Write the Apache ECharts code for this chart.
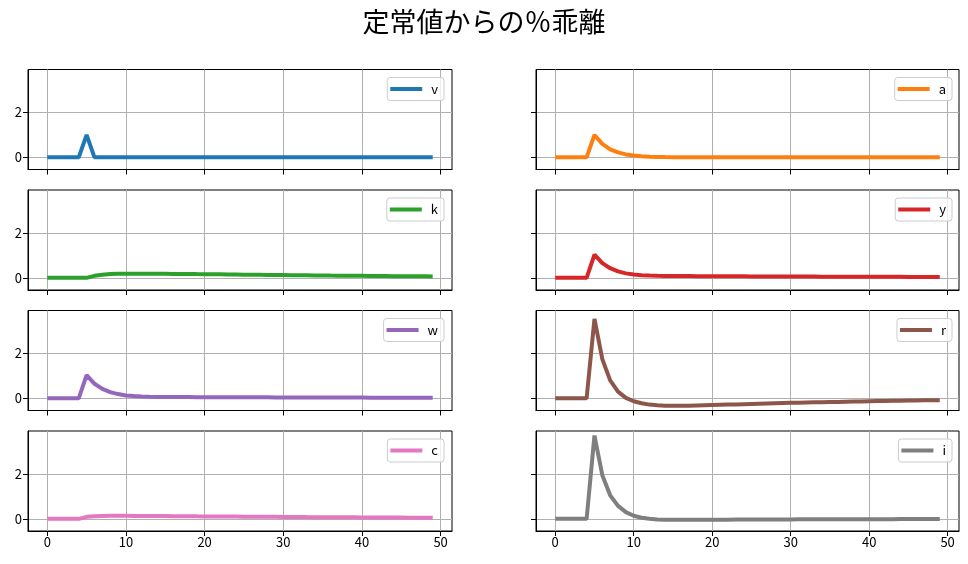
<!DOCTYPE html>
<html>
<head>
<meta charset="utf-8">
<script src="https://cdn.jsdelivr.net/npm/echarts@6/dist/echarts.min.js"></script>
<style>
html,body{margin:0;padding:0;background:#fff;}
#chart{width:968px;height:564px;}
</style>
</head>
<body>
<div id="chart"></div>
<script>
// ---- data ----
const title = '定常値からの％乖離';
const periods = Array.from({length: 50}, (_, t) => t);
const xTicks = [0, 10, 20, 30, 40, 50];
const yTicks = [0, 2];
const names = ['v', 'a', 'k', 'y', 'w', 'r', 'c', 'i'];
const colors = ['#1f77b4', '#ff7f0e', '#2ca02c', '#d62728', '#9467bd', '#8c564b', '#e377c2', '#7f7f7f'];

const v = [0,0,0,0,0,1,0,0,0,0, 0,0,0,0,0,0,0,0,0,0, 0,0,0,0,0,0,0,0,0,0, 0,0,0,0,0,0,0,0,0,0, 0,0,0,0,0,0,0,0,0,0];
const a = [0,0,0,0,0,1.0,0.60,0.36,0.22,0.13, 0.08,0.05,0.03,0.018,0.011,0.007,0.004,0.003,0.002,0.001, 0,0,0,0,0,0,0,0,0,0, 0,0,0,0,0,0,0,0,0,0, 0,0,0,0,0,0,0,0,0,0];
const k = [0,0,0,0,0,0,0.09,0.14,0.17,0.18, 0.185,0.187,0.186,0.184,0.182,0.179, 0.176,0.173,0.17,0.166,0.163, 0.159,0.155,0.151,0.147,0.143,0.139,0.135,0.131,0.127,0.123, 0.119,0.115,0.111,0.107,0.104,0.1,0.097,0.094,0.091,0.088, 0.085,0.082,0.079,0.076,0.073,0.071,0.068,0.066,0.064];
const y = [0,0,0,0,0,1.04,0.66,0.43,0.29,0.2, 0.15,0.12,0.1,0.09,0.085,0.082,0.08,0.078,0.076,0.074, 0.072,0.071,0.069,0.068,0.067,0.065,0.064,0.063,0.061,0.06, 0.059,0.058,0.056,0.055,0.054,0.053,0.052,0.051,0.05,0.049, 0.048,0.047,0.046,0.045,0.044,0.043,0.042,0.041,0.04,0.039];
const w = [0,0,0,0,0,1.04,0.65,0.42,0.28,0.19, 0.13,0.1,0.08,0.07,0.065,0.06, 0.058,0.056,0.055,0.053,0.052, 0.051,0.05,0.049,0.048,0.047,0.046,0.045,0.044,0.043,0.042, 0.041,0.04,0.039,0.038,0.037,0.036,0.035,0.034,0.033,0.032, 0.031,0.031,0.03,0.029,0.029,0.028,0.027,0.027,0.026];
const r = [0,0,0,0,0,3.55,1.75,0.8,0.3,0.02, -0.13,-0.22,-0.28,-0.31,-0.33,-0.335, -0.335,-0.33,-0.32,-0.31,-0.3, -0.29,-0.28,-0.27,-0.26,-0.25,-0.24,-0.23,-0.22,-0.21,-0.2, -0.193,-0.186,-0.179,-0.172,-0.165,-0.158,-0.151,-0.144,-0.137,-0.13, -0.124,-0.118,-0.112,-0.106,-0.1,-0.095,-0.09,-0.085,-0.08];
const c = [0,0,0,0,0,0.09,0.12,0.13,0.135,0.135, 0.133,0.13,0.128,0.126,0.124,0.122, 0.119,0.117,0.115,0.112,0.11, 0.107,0.105,0.102,0.1,0.097,0.095,0.092,0.09,0.088,0.085, 0.083,0.081,0.078,0.076,0.074,0.072,0.07,0.068,0.066,0.064, 0.062,0.06,0.058,0.057,0.055,0.053,0.052,0.05,0.049];
const iv = [0,0,0,0,0,3.72,1.95,1.05,0.58,0.3, 0.14,0.05,0.0,-0.03,-0.04,-0.045, -0.045,-0.044,-0.042,-0.04,-0.038, -0.036,-0.035,-0.033,-0.032,-0.03,-0.029,-0.028,-0.026,-0.025,-0.024, -0.023,-0.022,-0.021,-0.02,-0.019,-0.018,-0.017,-0.017,-0.016,-0.015, -0.014,-0.014,-0.013,-0.012,-0.012,-0.011,-0.011,-0.01,-0.01];
const seriesValues = [v, a, k, y, w, r, c, iv];

// ---- layout ----
const FONT = '"Noto Sans CJK JP", "DejaVu Sans", sans-serif';
const colLeft = [28, 536];
const colWidth = [424, 423];
const rowTop = [69.5, 190, 310.5, 431];
const rowHeight = 100;
const xMin = -2.45, xMax = 51.45;
const yMin = -0.543, yMax = 3.923;

const grids = [], xAxes = [], yAxes = [], series = [], legends = [];
names.forEach((name, idx) => {
  const row = Math.floor(idx / 2), col = idx % 2;
  grids.push({
    left: colLeft[col], top: rowTop[row], width: colWidth[col], height: rowHeight,
    show: true, borderColor: '#000', borderWidth: 1, backgroundColor: 'transparent'
  });
  xAxes.push({
    type: 'value', gridIndex: idx, min: xMin, max: xMax,
    axisLine: {show: true, onZero: false, lineStyle: {color: '#000', width: 1}},
    axisTick: {show: true, customValues: xTicks, length: 5, lineStyle: {color: '#000', width: 1}},
    axisLabel: {show: row === 3, customValues: xTicks, color: '#000', fontSize: 13, fontFamily: FONT, margin: 5},
    splitLine: {show: true, lineStyle: {color: '#b0b0b0', width: 1}}
  });
  yAxes.push({
    type: 'value', gridIndex: idx, min: yMin, max: yMax,
    axisLine: {show: true, onZero: false, lineStyle: {color: '#000', width: 1}},
    axisTick: {show: true, customValues: yTicks, length: 5, lineStyle: {color: '#000', width: 1}},
    axisLabel: {show: col === 0, customValues: yTicks, color: '#000', fontSize: 13, fontFamily: FONT, margin: 6},
    splitLine: {show: true, lineStyle: {color: '#b0b0b0', width: 1}}
  });
  series.push({
    name: name, type: 'line', xAxisIndex: idx, yAxisIndex: idx,
    data: periods.map((t, j) => [t, seriesValues[idx][j]]),
    symbol: 'none', showSymbol: false, smooth: false,
    lineStyle: {color: colors[idx], width: 4}, itemStyle: {color: colors[idx]},
    z: 3
  });
  legends.push({
    data: [name],
    right: col === 0 ? 968 - 444 : 968 - 952,
    top: rowTop[row] + 8,
    orient: 'vertical',
    icon: 'rect', itemWidth: 32, itemHeight: 4,
    backgroundColor: 'rgba(255,255,255,0.8)',
    borderColor: '#cccccc', borderWidth: 1, borderRadius: 3,
    padding: [5, 6, 5, 3],
    selectedMode: false,
    textStyle: {color: '#000', fontSize: 13, fontFamily: FONT, padding: [0, 0, 0, 4]}
  });
});

const chart = echarts.init(document.getElementById('chart'), null, {renderer: 'canvas'});
chart.setOption({
  animation: false,
  backgroundColor: '#fff',
  title: {text: title, left: 'center', top: 3, textStyle: {fontSize: 27, fontWeight: 'normal', color: '#000', fontFamily: FONT}},
  grid: grids, xAxis: xAxes, yAxis: yAxes, series: series, legend: legends
});
</script>
</body>
</html>
